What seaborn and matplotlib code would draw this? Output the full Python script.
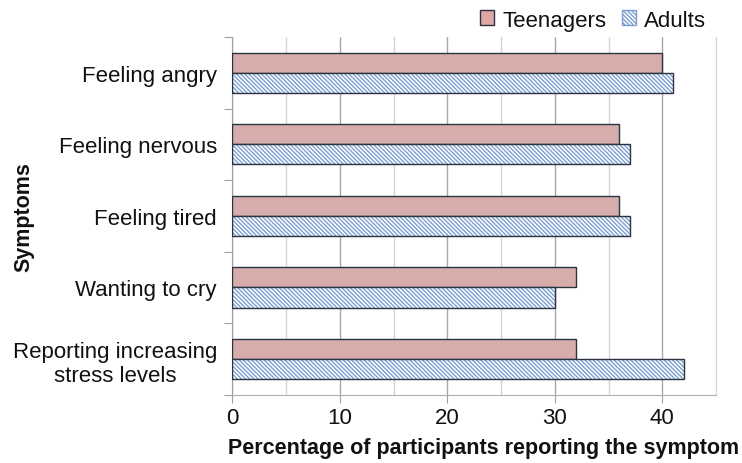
import matplotlib
matplotlib.use("Agg")
import matplotlib.pyplot as plt
import seaborn as sns
import pandas as pd
from matplotlib.patches import Patch, Rectangle

symptoms = ["Feeling angry", "Feeling nervous", "Feeling tired", "Wanting to cry",
            "Reporting increasing\nstress levels"]
teenagers = [40, 36, 36, 32, 32]
adults = [41, 37, 37, 30, 42]
groups = ["Teenagers", "Adults"]

df = pd.DataFrame({
    "Symptom": symptoms * 2,
    "Value": teenagers + adults,
    "Group": [groups[0]] * len(symptoms) + [groups[1]] * len(symptoms),
})

sns.set_style("white")
plt.rcParams["font.family"] = ["Liberation Sans", "DejaVu Sans"]
plt.rcParams["hatch.linewidth"] = 1.0
plt.rcParams["text.color"] = "#111111"
plt.rcParams["axes.labelcolor"] = "#111111"
plt.rcParams["xtick.labelcolor"] = "#111111"
plt.rcParams["ytick.labelcolor"] = "#111111"

fig, ax = plt.subplots(figsize=(7.42, 4.64), dpi=100)
fig.subplots_adjust(left=0.313, right=0.965, top=0.918, bottom=0.147)

teen_color = "#dea7a4"
hatch_color = "#7b9fd0"
edge_dark = "#2b3340"
HATCH = "\\" * 8

sns.barplot(data=df, y="Symptom", x="Value", hue="Group", orient="h",
            palette={"Teenagers": teen_color, "Adults": "white"},
            width=0.56, gap=0.0, ax=ax, legend=False, zorder=3)

bars = list(ax.patches)
for i, bar in enumerate(bars):
    bar.set_linewidth(1.0)
    if i >= len(symptoms):
        bar.set_hatch(HATCH)
        bar.set_edgecolor(hatch_color)
        bar.set_linewidth(0)
        outline = Rectangle(bar.get_xy(), bar.get_width(), bar.get_height(),
                            fill=False, edgecolor=edge_dark, linewidth=1.0, zorder=4)
        ax.add_patch(outline)
    else:
        bar.set_edgecolor(edge_dark)

ax.set_xlim(0, 45)
ax.set_xticks([0, 10, 20, 30, 40])
ax.set_xticks([5, 15, 25, 35, 45], minor=True)
ax.grid(axis="x", which="major", color="#a8a8a8", linewidth=1.0, zorder=0)
ax.grid(axis="x", which="minor", color="#d4d4d4", linewidth=1.0, zorder=0)
ax.set_axisbelow(True)
ax.set_ylim(len(symptoms) - 0.5, -0.5)
ax.set_yticks([i - 0.5 for i in range(len(symptoms) + 1)], minor=False)
ax.set_yticklabels([])
ax.set_yticks(range(len(symptoms)), minor=True)
ax.set_yticklabels(symptoms, minor=True, fontsize=16)
ax.tick_params(axis="y", which="minor", length=0, pad=11)
ax.tick_params(axis="y", which="major", length=6, color="#a0a0a0", direction="out", left=True)
ax.tick_params(axis="x", which="major", length=6, color="#a0a0a0", direction="out",
               labelsize=16, pad=3, bottom=True)
ax.tick_params(axis="x", which="minor", length=0)
for lbl in ax.get_yticklabels(minor=True):
    lbl.set_horizontalalignment("right")
    lbl.set_multialignment("center")

ax.spines["top"].set_visible(False)
ax.spines["right"].set_color("#d4d4d4")
ax.spines["left"].set_color("#a0a0a0")
ax.spines["bottom"].set_color("#b0b0b0")

ax.set_xlabel("Percentage of participants reporting the symptom", fontsize=15.5,
              fontweight="bold")
ax.set_ylabel("Symptoms", fontsize=15.5, fontweight="bold")
ax.xaxis.set_label_coords(0.519, -0.147)
ax.yaxis.set_label_coords(-0.43, 0.5)
ax.xaxis.label.set_verticalalignment("center")
ax.yaxis.label.set_verticalalignment("center")

handles = [Patch(facecolor=teen_color, edgecolor=edge_dark, label="Teenagers"),
           Patch(facecolor="white", edgecolor=hatch_color, hatch=HATCH, label="Adults")]
leg = ax.legend(handles=handles, loc="lower right", bbox_to_anchor=(1.0, 0.99), ncol=2,
                frameon=False, fontsize=16, handlelength=0.65, handleheight=0.65,
                handletextpad=0.35, columnspacing=0.7, borderaxespad=0.05)

fig.savefig("out.png", dpi=100)
